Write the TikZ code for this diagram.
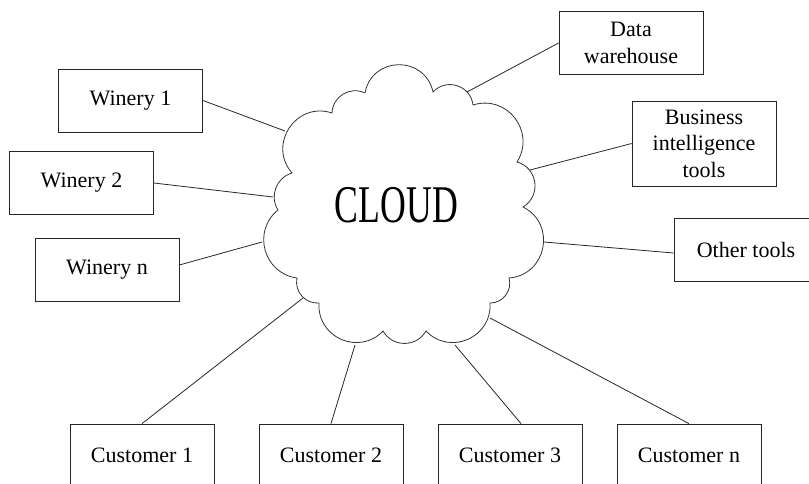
\documentclass[tikz,border=0pt]{standalone}
\usepackage{fontspec}
\setmainfont{Liberation Serif}
\begin{document}
\begin{tikzpicture}[x=1pt,y=-1pt,
  boxnode/.style={draw=black!85, line width=0.8pt, minimum width=144pt, minimum height=63pt,
    inner sep=0pt, align=center, font=\fontsize{22}{26.5}\selectfont},
  link/.style={draw=black!85, line width=0.8pt},
  cloudline/.style={draw=black!80, line width=0.8pt, fill=white}]
\useasboundingbox (0,0) rectangle (809,484);
\clip (0,0) rectangle (809,484);

% boxes
\node[boxnode] (W1) at (130.5,100.5) {Winery 1};
\node[boxnode] (W2) at (81.5,183) {Winery 2};
\node[boxnode] (Wn) at (107,269.5) {Winery n};
\node[boxnode] (DW) at (631,43) {Data\\warehouse};
\node[boxnode, minimum height=85pt] (BI) at (704,143.5) {Business\\intelligence\\tools};
\node[boxnode] (OT) at (746,249.5) {Other tools};
\node[boxnode] (C1) at (142,455.5) {Customer 1};
\node[boxnode] (C2) at (331,455.5) {Customer 2};
\node[boxnode] (C3) at (510,455.5) {Customer 3};
\node[boxnode] (Cn) at (689,455.5) {Customer n};

% cloud contact points
\coordinate (cW1) at (285,131);
\coordinate (cW2) at (273,197);
\coordinate (cWn) at (262,242);
\coordinate (cDW) at (467,92);
\coordinate (cBI) at (530,170);
\coordinate (cOT) at (544,242);
\coordinate (cC1) at (303,298);
\coordinate (cC2) at (355,345);
\coordinate (cC3) at (455,345);
\coordinate (cCn) at (490,318);

% connectors
\draw[link] (W1.east) -- (cW1);
\draw[link] (W2.east) -- (cW2);
\draw[link] ([yshift=4.5pt]Wn.east) -- (cWn);
\draw[link] (DW.west) -- (cDW);
\draw[link] (BI.west) -- (cBI);
\draw[link] ([yshift=-3.5pt]OT.west) -- (cOT);
\draw[link] (C1.north) -- (cC1);
\draw[link] (C2.north) -- (cC2);
\draw[link] ([xshift=11pt]C3.north) -- (cC3);
\draw[link] (Cn.north) -- (cCn);

% cloud
\path[cloudline]
  (365,93)
  to[bend left=78.7, looseness=1.42] (433,92)
  to[bend left=65.2, looseness=1.20] (473,105)
  to[bend left=70, looseness=1.27] (517,162)
  to[bend left=66.8, looseness=1.22] (523,207)
  to[bend left=74.5, looseness=1.34] (509,278)
  to[bend left=53.1, looseness=1.06] (490,303)
  to[bend left=70, looseness=1.27] (426,331)
  to[bend left=60.2, looseness=1.14] (383,331)
  to[bend left=70, looseness=1.27] (319,303)
  to[bend left=53.1, looseness=1.06] (297,278)
  to[bend left=66.8, looseness=1.22] (278,210)
  to[bend left=53.1, looseness=1.06] (292,173)
  to[bend left=74.5, looseness=1.34] (332,113)
  to[bend left=56.7, looseness=1.10] (365,93);

\node[font=\fontsize{53}{60}\selectfont, xscale=0.674, inner sep=0pt] (cloudtext) at (396.5,205.5) {CLOUD};
\end{tikzpicture}
\end{document}
